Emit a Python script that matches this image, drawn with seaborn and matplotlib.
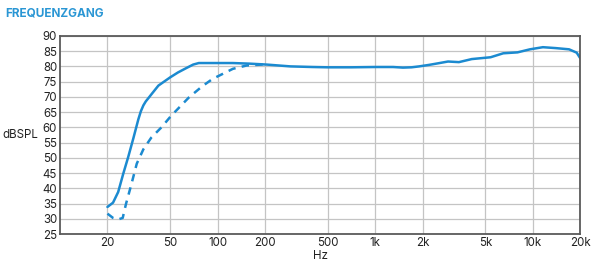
import matplotlib
matplotlib.use("Agg")
import matplotlib.pyplot as plt
import pandas as pd
import seaborn as sns
from matplotlib.ticker import FixedLocator, NullLocator

# Frequency response, solid curve (Hz, dB SPL)
solid_freq = [20, 21.7, 23.4, 25.2, 27.1, 29.2, 31.4, 32.6, 33.8, 35.0, 36.4, 38.1, 42.1, 50, 56,
              62.5, 70, 76, 100, 125, 160, 205, 290, 400, 500, 700, 1000, 1300, 1500, 1700, 1900,
              2200, 2500, 2900, 3400, 4100, 5400, 6500, 8000, 9600, 11600, 14000, 17000, 19000,
              20000]
solid_level = [33.9, 35.3, 38.8, 44.8, 50.3, 56.4, 62.6, 65.3, 67.2, 68.5, 69.6, 70.9, 73.7, 76.4,
               78.0, 79.3, 80.6, 81.1, 81.1, 81.1, 80.9, 80.6, 80.0, 79.8, 79.7, 79.7, 79.8,
               79.8, 79.6, 79.7, 80.0, 80.5, 81.0, 81.6, 81.4, 82.4, 83.0, 84.3, 84.6, 85.6,
               86.3, 86.0, 85.6, 84.5, 82.7]

# Dashed curve (only differs below ~200 Hz)
dashed_freq = [20, 21.7, 23.4, 25, 26.2, 28.4, 30.7, 33.8, 37.9, 44, 50, 53, 65.7, 80, 93, 125,
               153, 205]
dashed_level = [31.7, 30.3, 29.8, 30.3, 34.8, 41.4, 48.1, 52.8, 56.6, 60.0, 63.4, 64.8, 69.8,
                73.5, 75.9, 79.2, 80.3, 80.7]

x_ticks = [20, 50, 100, 200, 500, 1000, 2000, 5000, 10000, 20000]
x_labels = ["20", "50", "100", "200", "500", "1k", "2k", "5k", "10k", "20k"]
y_ticks = list(range(25, 95, 5))

blue = "#1b8ad0"

sns.set_style("white")
plt.rcParams["font.family"] = ["Inter", "DejaVu Sans"]

solid = pd.DataFrame({"freq": solid_freq, "level": solid_level})
dashed = pd.DataFrame({"freq": dashed_freq, "level": dashed_level})

fig = plt.figure(figsize=(6, 2.66), dpi=100)
ax = fig.add_axes([0.1, 0.12, 0.867, 0.745])

sns.lineplot(data=dashed, x="freq", y="level", ax=ax, color=blue, lw=1.8,
             linestyle=(0, (3, 2.5)))
sns.lineplot(data=solid, x="freq", y="level", ax=ax, color=blue, lw=1.8)

ax.set_xscale("log")
ax.set_xlim(10, 20000)
ax.set_ylim(25, 90)
ax.xaxis.set_major_locator(FixedLocator(x_ticks))
ax.xaxis.set_minor_locator(NullLocator())
ax.set_xticklabels(x_labels)
ax.set_yticks(y_ticks)
ax.grid(True, color="#c4c4c4", lw=0.9)
ax.tick_params(length=0, labelsize=8.3, colors="#222222", pad=2)
for s in ax.spines.values():
    s.set_color("#5a5a5a")
    s.set_linewidth(1.3)

ax.set_xlabel("Hz", fontsize=8.3, color="#222222", va="center")
ax.xaxis.set_label_coords(0.5, -0.112)
ax.set_ylabel("dBSPL", fontsize=8.3, color="#222222", rotation=0, va="center", ha="center")
ax.yaxis.set_label_coords(-0.077, 0.5)
fig.text(0.008, 0.95, "FREQUENZGANG", color="#2a96d4", fontsize=8.5, fontweight="bold",
         va="center")

fig.savefig("out.png", dpi=100)
